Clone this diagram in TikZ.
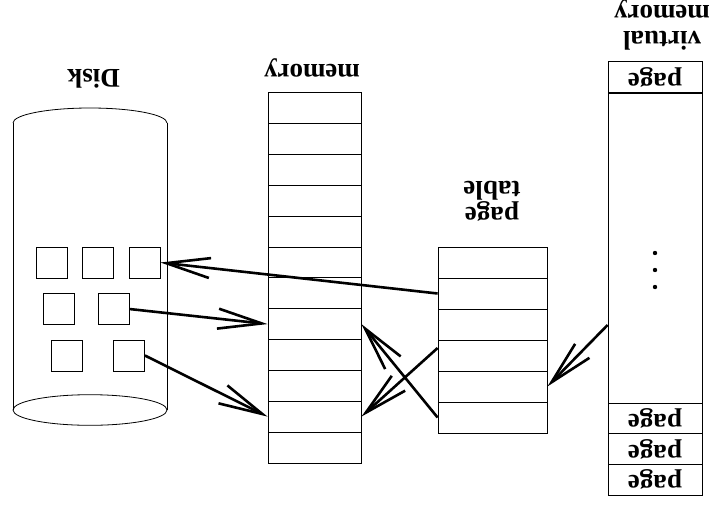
\documentclass[tikz,border=0pt]{standalone}
\usepackage{fontspec}
\setmainfont{Liberation Serif}
\usetikzlibrary{arrows.meta}

\begin{document}
\begin{tikzpicture}[x=1pt,y=-1pt]
  \tikzset{>={Straight Barb[length=44pt,width=20pt]}}
  \tikzset{cell/.style={draw, line width=0.8pt, inner sep=0pt, minimum width=93pt, minimum height=30.85pt},
    block/.style={draw, line width=0.8pt, inner sep=0pt, minimum size=31pt},
    heading/.style={rotate=180, align=center, inner sep=0pt, font=\fontsize{27}{26}\selectfont\bfseries},
    link/.style={->, line width=2.6pt}}
  \useasboundingbox (0,0) rectangle (712,506);

  % disk
  \draw [line width=0.8pt] (13,123) -- (13,410) (167,123) -- (167,410);
  \draw [line width=0.8pt] (13,123) arc [start angle=180, end angle=360, x radius=77, y radius=15];
  \draw [line width=0.8pt] (90,410) ellipse [x radius=77, y radius=15.3];
  \node [heading] (DiskTitle) at (93.5,79) {Disk};
  \foreach \name/\x/\y in {11/51.5/262.5, 12/97.5/262.5, 13/144.5/262.5,
                           21/59/309, 22/113.5/309,
                           31/67/355.5, 32/129/355.5} {
    \node [block] (DiskBlock\name) at (\x,\y) {};
  }

  % physical memory
  \node [heading] (MemTitle) at (312,68) {memory};
  \foreach \i in {1,...,12} {
    \node [cell] (MemCell\i) at ({314.5},{92.7+30.85*(\i-0.5)}) {};
  }

  % page table
  \node [heading] (PageTabTitle) at (492,201) {page\\table};
  \foreach \i in {1,...,6} {
    \node [cell, minimum width=109pt, minimum height=31pt] (PageTab\i) at ({492.5},{247+31*(\i-0.5)}) {};
  }

  % virtual memory
  \node [heading] (VirtTitle) at (662,25) {virtual\\memory};
  \node [cell, minimum width=94pt, minimum height=31pt, rotate=180, font=\fontsize{27}{24}\selectfont\bfseries] (VirtTop) at (655,77) {page};
  \node [cell, minimum width=94pt, minimum height=310pt] (VirtBody) at (655,248) {};
  \foreach \i in {1,...,3} {
    \node [cell, minimum width=94pt, minimum height=30.7pt, rotate=180, font=\fontsize{27}{24}\selectfont\bfseries] (VirtPage\i) at ({655},{403+30.7*(\i-0.5)}) {page};
  }
  \foreach \d in {253,270,287} {
    \fill (655,\d) circle (2.2pt);
  }

  % mappings
  \draw [link] (PageTab2.west) -- (DiskBlock13.east);
  \draw [link] (DiskBlock22.east) -- (MemCell8.west);
  \draw [link] (DiskBlock32.east) -- (MemCell11.west);
  \draw [link] (PageTab6.west) -- (MemCell8.east);
  \draw [link] ([yshift=7.5pt]PageTab4.west) -- (MemCell11.east);
  \draw [link] ([yshift=-77pt]VirtBody.west) -- (PageTab5.east);
\end{tikzpicture}
\end{document}
